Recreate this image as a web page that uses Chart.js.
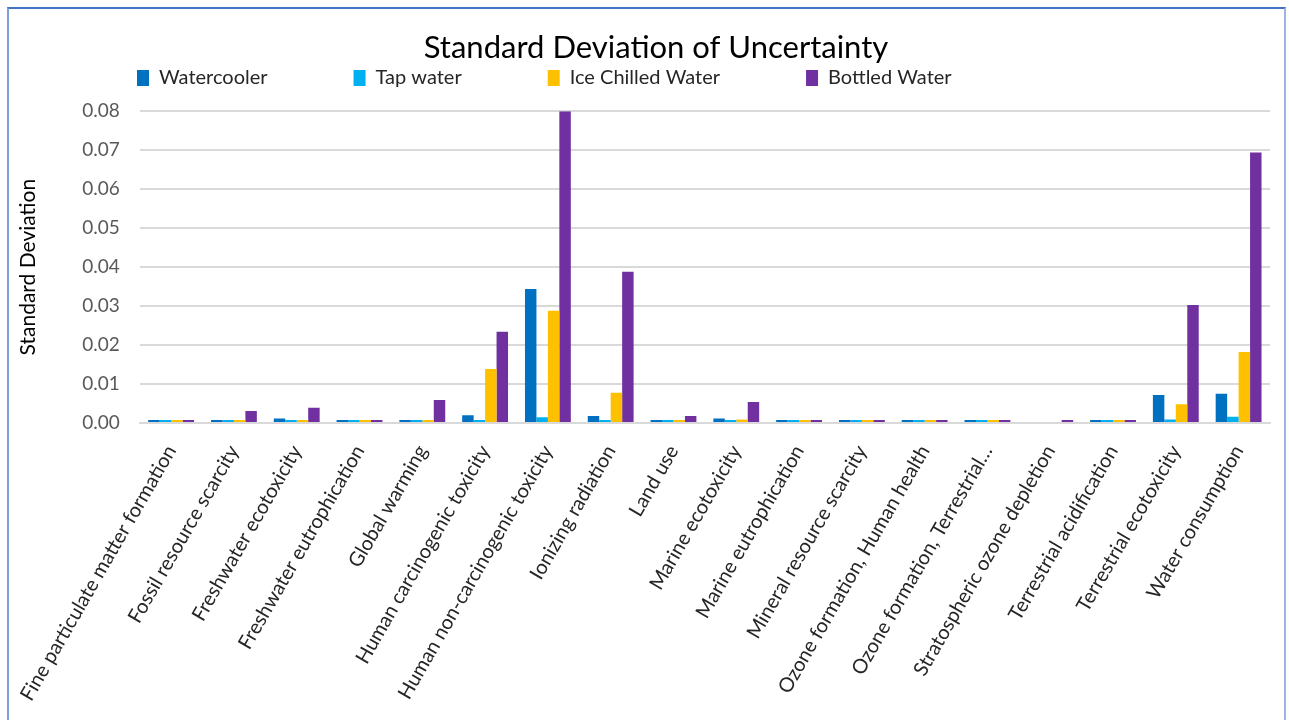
<!DOCTYPE html>
<html>
<head>
<meta charset="utf-8">
<script src="https://cdn.jsdelivr.net/npm/chart.js@4.4.1/dist/chart.umd.min.js"></script>
<style>
  html, body { margin: 0; padding: 0; background: #fff; }
  #wrap { position: absolute; left: 0; top: 0; width: 1289px; height: 720px; }
  #frame { position: absolute; left: 7px; top: 7px; width: 1279px; height: 720px; border-top: 2px solid #4472c4; border-left: 2px solid #7f9fd8; border-right: 2px solid #9db3e0; box-sizing: border-box; pointer-events: none; }
</style>
</head>
<body>
<div id="wrap"><canvas id="c" width="1289" height="720"></canvas></div>
<div id="frame"></div>
<script>
const categories = [
  "Fine particulate matter formation",
  "Fossil resource scarcity",
  "Freshwater ecotoxicity",
  "Freshwater eutrophication",
  "Global warming",
  "Human carcinogenic toxicity",
  "Human non-carcinogenic toxicity",
  "Ionizing radiation",
  "Land use",
  "Marine ecotoxicity",
  "Marine eutrophication",
  "Mineral resource scarcity",
  "Ozone formation, Human health",
  "Ozone formation, Terrestrial…",
  "Stratospheric ozone depletion",
  "Terrestrial acidification",
  "Terrestrial ecotoxicity",
  "Water consumption"
];
const watercooler = [0.0008, 0.0008, 0.0012, 0.0008, 0.0008, 0.0020, 0.0344, 0.0018, 0.0008, 0.0012, 0.0008, 0.0008, 0.0008, 0.0008, 0.0000, 0.0008, 0.0072, 0.0075];
const tapWater    = [0.0008, 0.0008, 0.0008, 0.0008, 0.0008, 0.0008, 0.0015, 0.0008, 0.0008, 0.0008, 0.0008, 0.0008, 0.0008, 0.0008, 0.0000, 0.0008, 0.0009, 0.0016];
const iceChilled  = [0.0008, 0.0008, 0.0008, 0.0008, 0.0008, 0.0139, 0.0288, 0.0078, 0.0008, 0.0009, 0.0008, 0.0008, 0.0008, 0.0008, 0.0000, 0.0008, 0.0048, 0.0182];
const bottled     = [0.0008, 0.0031, 0.0039, 0.0008, 0.0059, 0.0234, 0.0800, 0.0388, 0.0018, 0.0054, 0.0008, 0.0008, 0.0008, 0.0008, 0.0008, 0.0008, 0.0303, 0.0694];
const seriesNames = ["Watercooler", "Tap water", "Ice Chilled Water", "Bottled Water"];
const yTicks = [0, 0.01, 0.02, 0.03, 0.04, 0.05, 0.06, 0.07, 0.08];

const colors = ["#0070c0", "#00b0f0", "#ffc000", "#7030a0"];
const FONT = "Lato, 'Open Sans', sans-serif";

// Nudges the title and legend to the spots they hold in the original layout.
const placeBoxes = {
  id: 'placeBoxes',
  beforeDraw(chart) {
    const lg = chart.legend;
    if (lg) {
      const P = lg.options.labels.padding;
      const w = lg.right - lg.left;
      lg.left = 137 - P; lg.right = lg.left + w;
      lg.top = 68 - P; lg.bottom = 100;
    }
    const t = chart.titleBlock;
    if (t) { t.left += 17; t.right += 17; }
  }
};

new Chart(document.getElementById('c'), {
  type: 'bar',
  data: {
    labels: categories,
    datasets: [watercooler, tapWater, iceChilled, bottled].map((d, i) => ({
      label: seriesNames[i],
      data: d,
      backgroundColor: colors[i],
      borderWidth: 0,
      categoryPercentage: 0.73,
      barPercentage: 1.0
    }))
  },
  plugins: [placeBoxes],
  options: {
    responsive: false,
    animation: false,
    devicePixelRatio: 1,
    layout: { padding: { left: 8, right: 19, top: 20, bottom: 5 } },
    plugins: {
      title: {
        display: true,
        text: 'Standard Deviation of Uncertainty',
        color: '#000',
        font: { family: FONT, size: 31, weight: 'normal' },
        padding: { top: 9, bottom: 0 }
      },
      legend: {
        position: 'top',
        align: 'start',
        fullSize: false,
        maxHeight: 45,
        labels: {
          color: '#262626',
          font: { family: FONT, size: 20 },
          boxWidth: 12,
          boxHeight: 16,
          padding: 86
        }
      },
      tooltip: { enabled: false }
    },
    scales: {
      x: {
        grid: { display: false },
        border: { display: true, color: '#d9d9d9', width: 2 },
        ticks: {
          color: '#262626',
          font: { family: FONT, size: 20 },
          autoSkip: false,
          minRotation: 60,
          maxRotation: 60,
          padding: 10
        }
      },
      y: {
        min: 0,
        max: 0.08,
        afterBuildTicks: (axis) => { axis.ticks = yTicks.map(v => ({ value: v })); },
        grid: { color: '#d9d9d9', lineWidth: 2, drawTicks: false },
        border: { display: false },
        ticks: {
          color: '#595959',
          font: { family: FONT, size: 19 },
          padding: 20,
          callback: (v) => Number(v).toFixed(2)
        },
        title: {
          display: true,
          text: 'Standard Deviation',
          color: '#000',
          font: { family: FONT, size: 21 },
          padding: { top: 8, bottom: 21 }
        }
      }
    }
  }
});
</script>
</body>
</html>
